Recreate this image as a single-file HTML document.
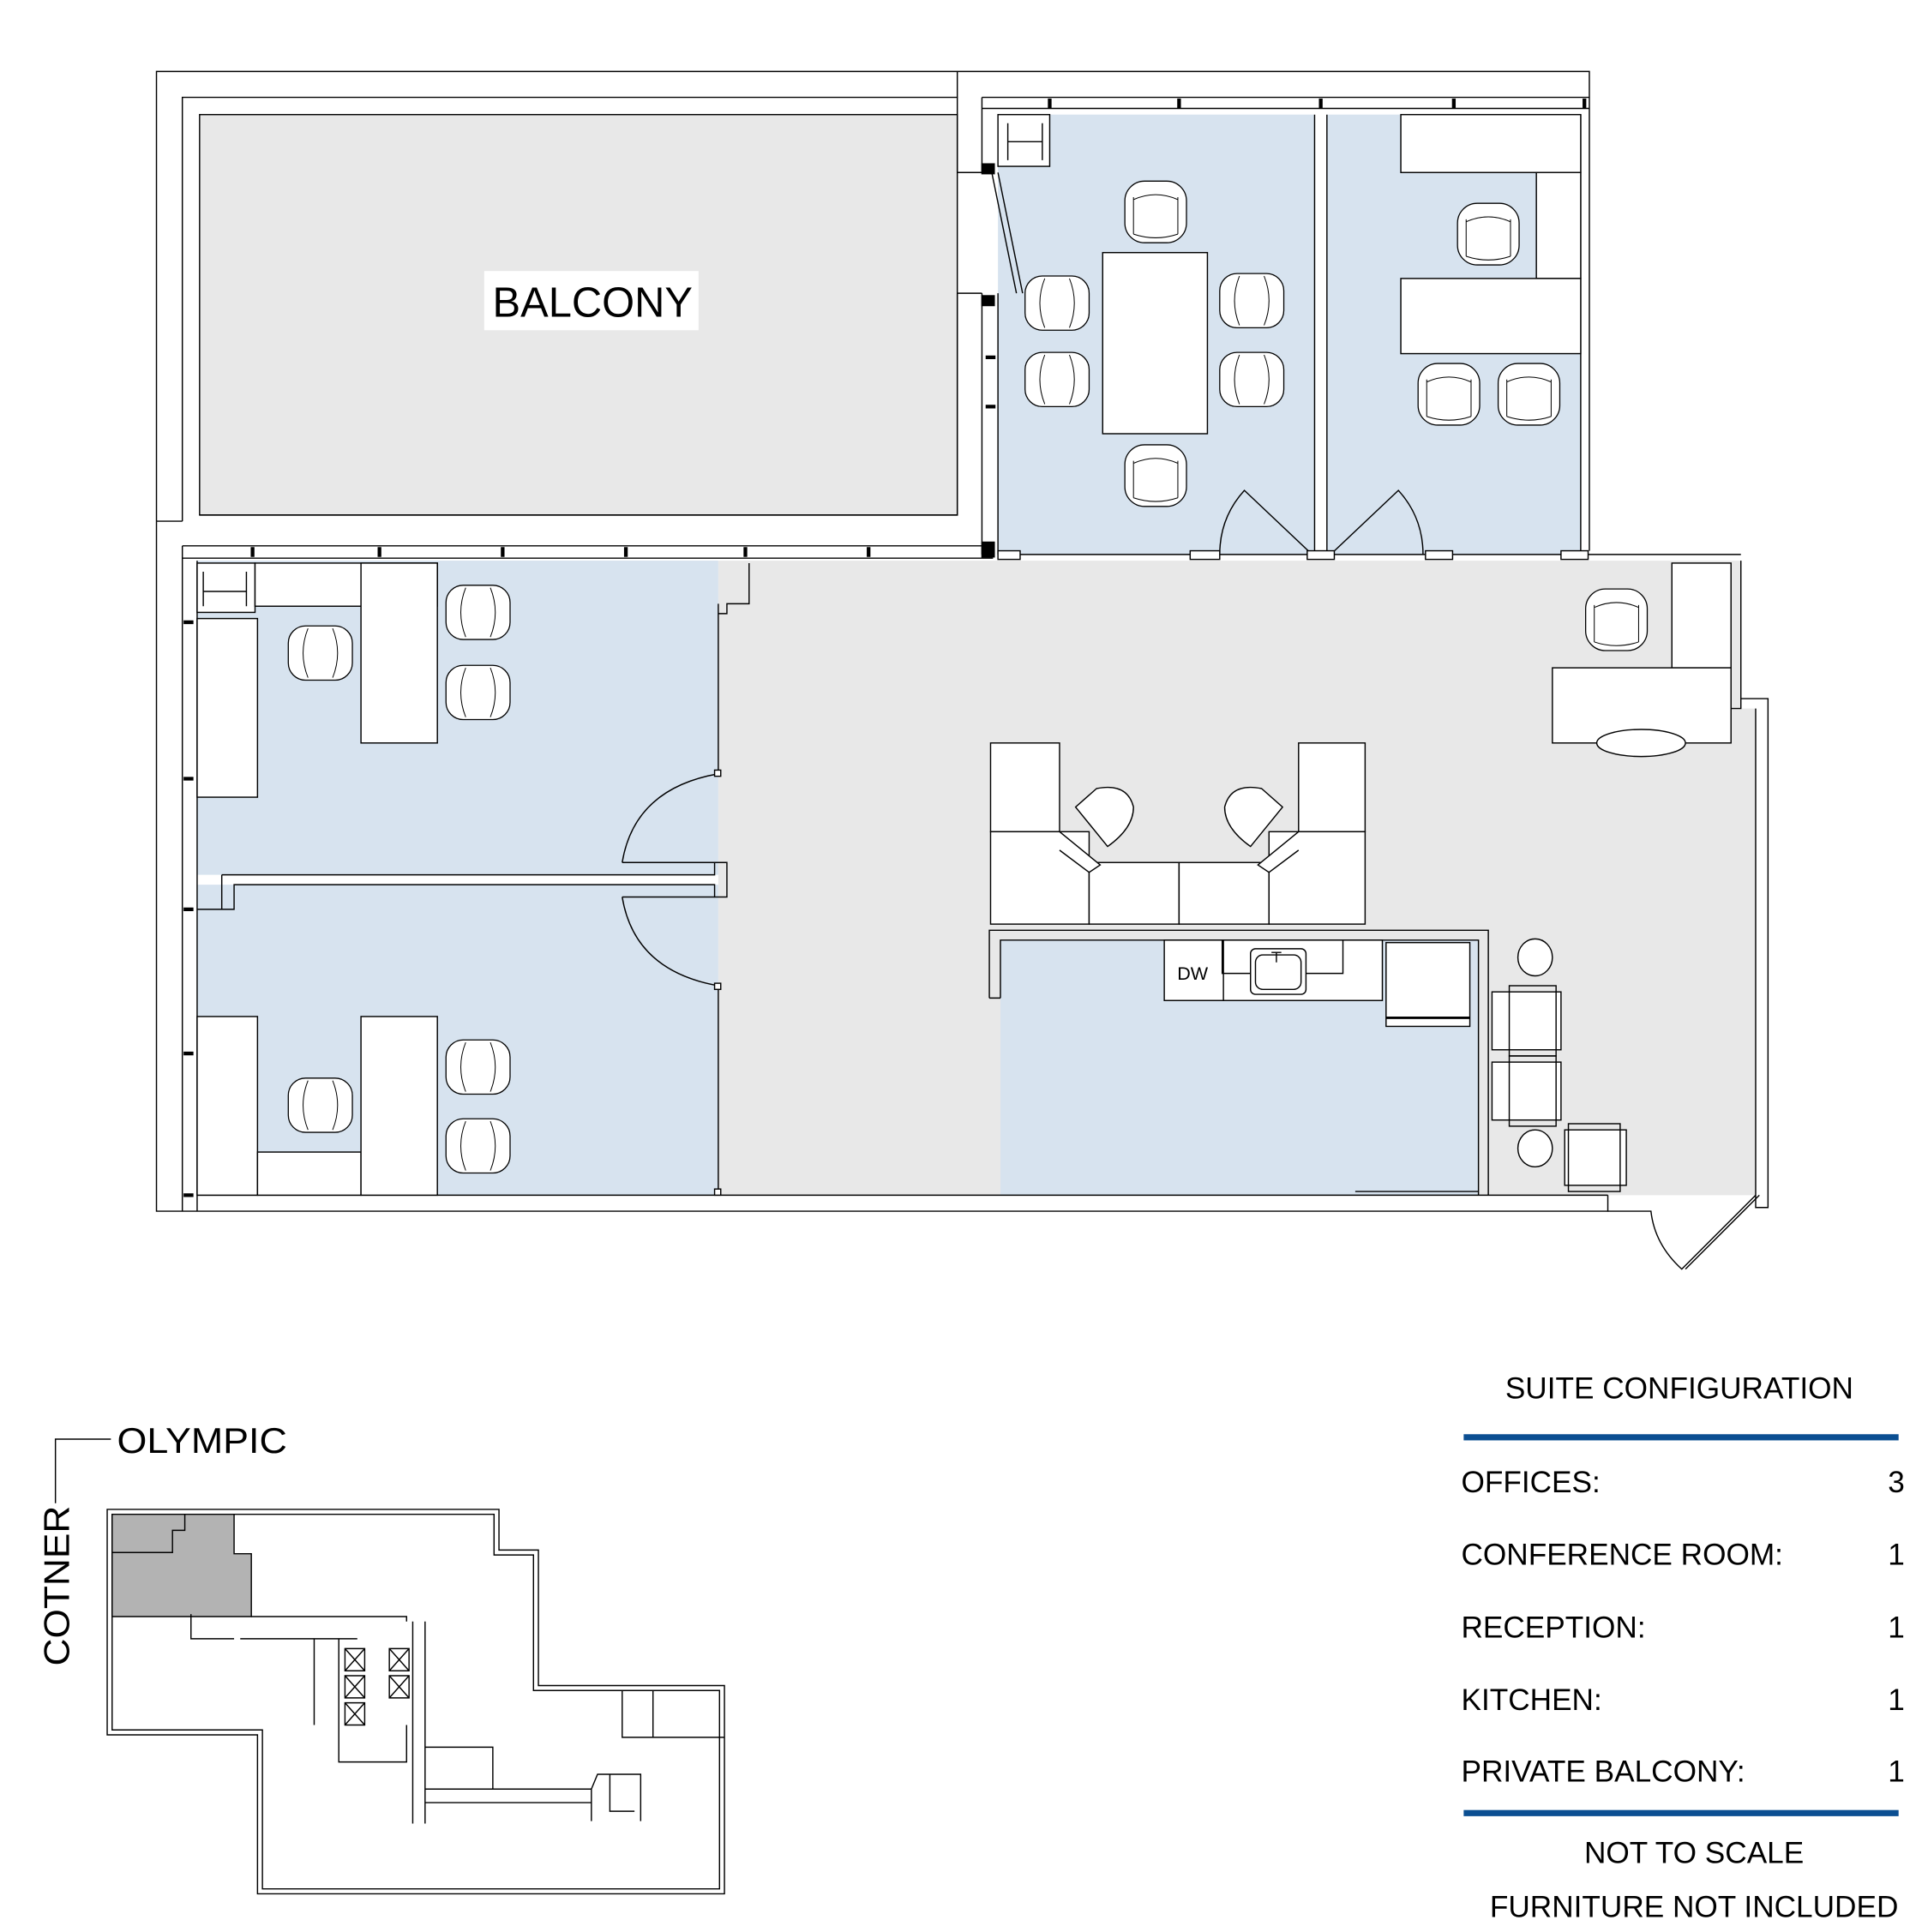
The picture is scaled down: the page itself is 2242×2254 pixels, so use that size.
<!DOCTYPE html>
<html><head><meta charset="utf-8"><style>
html,body{margin:0;padding:0;background:#fff;}
svg{display:block;}
text{font-family:"Liberation Sans",sans-serif;fill:#000;}
</style></head><body>
<svg width="2242" height="2254" viewBox="0 0 1560 1568" preserveAspectRatio="none" xmlns="http://www.w3.org/2000/svg">
<defs>
<g id="ch">
<rect x="-25" y="-25" width="50" height="50" rx="16" fill="#fff" stroke="#000" stroke-width="0.9"/>
<path d="M-18,-10 Q0,-18 18,-10 M-18,18 Q0,24 18,18 M-18,-12 L-18,18 M18,-12 L18,18" fill="none" stroke="#000" stroke-width="0.7"/>
</g>
<g id="chs">
<rect x="-26" y="-22" width="52" height="44" rx="14" fill="#fff" stroke="#000" stroke-width="0.9"/>
<path d="M-10,-20 Q-18,0 -10,20 M10,-20 Q18,0 10,20" fill="none" stroke="#000" stroke-width="0.7"/>
</g>
</defs>
<g fill="none" stroke="#000" stroke-width="1">
<rect x="162" y="93" width="615" height="325" fill="#e8e8e8"/>
<path d="M127,423 L127,58 L1290,58 L1290,447"/>
<path d="M148,423 L148,79 L777,79 L777,140 L800,140"/>
<path d="M777,58 L777,79"/>
<path d="M127,423 L148,423"/>
<path d="M777,238 L777,418 L162,418"/>
<rect x="810" y="93" width="257" height="357" fill="#d7e3ef" stroke="none"/>
<rect x="1077" y="93" width="206" height="357" fill="#d7e3ef" stroke="none"/>
<path d="M797,79 L1290,79 M797,88 L1290,88 M797,79 L797,140"/>
<path d="M852,80 v8 M957,80 v8 M1072,80 v8 M1180,80 v8 M1286,80 v8" stroke-width="3"/>
<rect x="797" y="133" width="10" height="8" fill="#000"/>
<rect x="797" y="240" width="10" height="8" fill="#000"/>
<path d="M805,140 L825,238 M810,140 L830,238"/>
<path d="M777,238 L797,238 M797,238 L797,450 M810,238 L810,450"/>
<rect x="797" y="440" width="10" height="12" fill="#000"/>
<path d="M800,330 h8 M800,290 h8" stroke-width="3"/>
<rect x="810" y="93" width="42" height="42" fill="#fff"/>
<path d="M818,100 v30 M846,100 v30 M818,115 h28"/>
<path d="M1067,93 L1067,450 M1077,93 L1077,450 M1283,93 L1283,450"/>
<rect x="1137" y="93" width="146" height="47" fill="#fff"/>
<rect x="1247" y="140" width="36" height="86" fill="#fff"/>
<rect x="1137" y="226" width="146" height="61" fill="#fff"/>
<rect x="895" y="205" width="85" height="147" fill="#fff"/>
<path d="M990,450 Q990,420 1010,398 L1065,450 M1155,450 Q1155,420 1135,398 L1080,450"/>
<path d="M810,450 L1290,450 M1290,450 L1413,450"/>
<rect x="810" y="447" width="18" height="7" fill="#fff"/>
<rect x="966" y="447" width="24" height="7" fill="#fff"/>
<rect x="1061" y="447" width="22" height="7" fill="#fff"/>
<rect x="1157" y="447" width="22" height="7" fill="#fff"/>
<rect x="1267" y="447" width="22" height="7" fill="#fff"/>
<path d="M583,455 L1413,455 L1413,575 L1425,575 L1425,970 L1305,970 L1200,970 L1200,763 L812,763 L812,970 L583,970 Z" fill="#e8e8e8" stroke="none"/>
<rect x="812" y="763" width="388" height="207" fill="#d7e3ef" stroke="none"/>
<rect x="160" y="455" width="423" height="255" fill="#d7e3ef" stroke="none"/>
<rect x="160" y="718" width="423" height="252" fill="#d7e3ef" stroke="none"/>
<path d="M127,423 L127,983 L1305,983 L1305,970 M148,443 L148,983 M160,455 L160,983 M160,970 L1305,970"/>
<path d="M148,443 L800,443 M148,453 L806,453"/>
<path d="M205,444 v8 M308,444 v8 M408,444 v8 M508,444 v8 M605,444 v8 M705,444 v8" stroke-width="3"/>
<path d="M149,505 h8 M149,632 h8 M149,738 h8 M149,855 h8 M149,970 h8" stroke-width="3"/>
<path d="M1413,455 L1413,575 L1405,575 M1413,567 L1435,567 L1435,980 L1425,980 L1425,575"/>
<path d="M1305,983 L1340,983 Q1343,1010 1365,1030 L1425,970 M1368,1030 L1428,970"/>
<path d="M583,490 L583,628 M583,800 L583,970 M608,457 L608,490 L590,490 L590,498 L583,498"/>
<path d="M180,710 L580,710 L580,700 L590,700 L590,728 L580,728 L580,718 L190,718 L190,738 L160,738 M180,710 L180,738"/>
<path d="M583,628 Q515,640 505,700 M583,800 Q515,788 505,728 M505,700 L580,700 M505,728 L580,728"/>
<rect x="580" y="625" width="5" height="5" fill="#fff"/>
<rect x="580" y="798" width="5" height="5" fill="#fff"/>
<rect x="580" y="965" width="5" height="5" fill="#fff"/>
<rect x="160" y="457" width="47" height="40" fill="#fff"/>
<path d="M165,464 v28 M200,464 v28 M165,480 h35"/>
<rect x="160" y="502" width="49" height="145" fill="#fff"/>
<rect x="207" y="457" width="148" height="35" fill="#fff"/>
<rect x="293" y="457" width="62" height="146" fill="#fff"/>
<rect x="160" y="825" width="49" height="145" fill="#fff"/>
<rect x="209" y="935" width="84" height="35" fill="#fff"/>
<rect x="293" y="825" width="62" height="145" fill="#fff"/>
<rect x="804" y="603" width="56" height="72" fill="#fff"/>
<rect x="804" y="675" width="80" height="75" fill="#fff"/>
<rect x="884" y="700" width="73" height="50" fill="#fff"/>
<rect x="957" y="700" width="73" height="50" fill="#fff"/>
<rect x="1054" y="603" width="54" height="72" fill="#fff"/>
<rect x="1030" y="675" width="78" height="75" fill="#fff"/>
<path d="M860,675 L893,702 L884,708 L860,690 M1054,675 L1021,702 L1030,708 L1054,690" fill="#fff"/>
<path d="M899,687 L873,655 L890,640 Q915,635 920,655 Q920,672 899,687 Z M1015,687 L1041,655 L1024,640 Q999,635 994,655 Q994,672 1015,687 Z" fill="#fff"/>
<path d="M803,810 L803,755 L1208,755 L1208,970 M812,810 L812,763 L1200,763 L1200,970 M803,810 L812,810"/>
<path d="M1100,967 L1200,967"/>
<rect x="945" y="763" width="177" height="49" fill="#fff"/>
<path d="M993,763 L993,812 M992,763 L992,790 L1090,790 L1090,763"/>
<rect x="1015" y="770" width="45" height="37" rx="4" fill="#fff"/>
<rect x="1019" y="775" width="37" height="28" rx="6"/>
<path d="M1032,773 h8 M1036,773 v8"/>
<rect x="1125" y="765" width="68" height="68" fill="#fff"/>
<path d="M1125,826 h68" stroke-width="2"/>
<ellipse cx="1246" cy="777" rx="14" ry="15" fill="#fff"/>
<ellipse cx="1246" cy="932" rx="14" ry="15" fill="#fff"/>
<rect x="1211" y="805" width="56" height="47" fill="#fff"/>
<rect x="1225" y="800" width="38" height="57"/>
<rect x="1211" y="862" width="56" height="47" fill="#fff"/>
<rect x="1225" y="857" width="38" height="57"/>
<rect x="1270" y="917" width="50" height="45" fill="#fff"/>
<rect x="1273" y="912" width="42" height="55"/>
<rect x="1357" y="457" width="48" height="85" fill="#fff"/>
<rect x="1260" y="542" width="145" height="61" fill="#fff"/>
<ellipse cx="1332" cy="603" rx="36" ry="11" fill="#fff"/>
</g>
<use href="#ch" x="938" y="172"/>
<use href="#ch" x="938" y="386"/>
<use href="#chs" x="858" y="246"/>
<use href="#chs" x="858" y="308"/>
<use href="#chs" x="1016" y="244"/>
<use href="#chs" x="1016" y="308"/>
<use href="#ch" x="1208" y="190"/>
<use href="#ch" x="1176" y="320"/>
<use href="#ch" x="1241" y="320"/>
<use href="#ch" x="1312" y="503"/>
<use href="#chs" x="260" y="530"/>
<use href="#chs" x="388" y="497"/>
<use href="#chs" x="388" y="562"/>
<use href="#chs" x="260" y="897"/>
<use href="#chs" x="388" y="866"/>
<use href="#chs" x="388" y="930"/>
<rect x="393" y="220" width="174" height="48" fill="#fff"/>
<text x="481" y="257" font-size="34" text-anchor="middle">BALCONY</text>
<text x="968" y="795" font-size="15" text-anchor="middle">DW</text>

<g fill="none" stroke="#000" stroke-width="1">
<path d="M45,1220 L45,1168 L90,1168"/>
<path d="M87,1225 L405,1225 L405,1258 L437,1258 L437,1368 L588,1368 L588,1537 L209,1537 L209,1408 L87,1408 Z"/>
<path d="M91,1229 L401,1229 L401,1262 L433,1262 L433,1372 L584,1372 L584,1533 L213,1533 L213,1404 L91,1404 Z"/>
<path d="M91,1229 L190,1229 L190,1261 L204,1261 L204,1312 L91,1312 Z" fill="#b3b3b3"/>
<path d="M91,1260 L140,1260 L140,1242 L150,1242 L150,1229"/>
<path d="M204,1312 L330,1312 L330,1316 M155,1310 L155,1330 L190,1330 M195,1330 L290,1330 M255,1330 L255,1400 M275,1330 L275,1430 L330,1430 L330,1400 M335,1316 L335,1480 M345,1316 L345,1480 M345,1418 L400,1418 L400,1452 M345,1452 L480,1452 L480,1478 M345,1463 L480,1463 M480,1452 L485,1440 L520,1440 L520,1478 M495,1440 L495,1470 L515,1470"/>
<path d="M280,1338 h16 v18 h-16 z M280,1360 h16 v18 h-16 z M280,1382 h16 v18 h-16 z M316,1338 h16 v18 h-16 z M316,1360 h16 v18 h-16 z"/>
<path d="M280,1338 l16,18 M296,1338 l-16,18 M280,1360 l16,18 M296,1360 l-16,18 M280,1382 l16,18 M296,1382 l-16,18 M316,1338 l16,18 M332,1338 l-16,18 M316,1360 l16,18 M332,1360 l-16,18"/>
<path d="M505,1372 L505,1410 L530,1410 L530,1372 M530,1410 L588,1410"/>
</g>
<text x="95" y="1179" font-size="29" textLength="138" lengthAdjust="spacingAndGlyphs">OLYMPIC</text>
<text transform="translate(56,1352) rotate(-90)" font-size="29" textLength="130" lengthAdjust="spacingAndGlyphs">COTNER</text>

<text x="1363" y="1135" font-size="24.5" text-anchor="middle">SUITE CONFIGURATION</text>
<rect x="1188" y="1164" width="353" height="5" fill="#0b4f92"/>
<g font-size="24.5">
<text x="1186" y="1211">OFFICES:</text><text x="1546" y="1211" text-anchor="end">3</text>
<text x="1186" y="1270">CONFERENCE ROOM:</text><text x="1546" y="1270" text-anchor="end">1</text>
<text x="1186" y="1329">RECEPTION:</text><text x="1546" y="1329" text-anchor="end">1</text>
<text x="1186" y="1388">KITCHEN:</text><text x="1546" y="1388" text-anchor="end">1</text>
<text x="1186" y="1446">PRIVATE BALCONY:</text><text x="1546" y="1446" text-anchor="end">1</text>
</g>
<rect x="1188" y="1469" width="353" height="5" fill="#0b4f92"/>
<text x="1375" y="1512" font-size="24.5" text-anchor="middle">NOT TO SCALE</text>
<text x="1375" y="1556" font-size="24.5" text-anchor="middle">FURNITURE NOT INCLUDED</text>
</svg>
</body></html>
